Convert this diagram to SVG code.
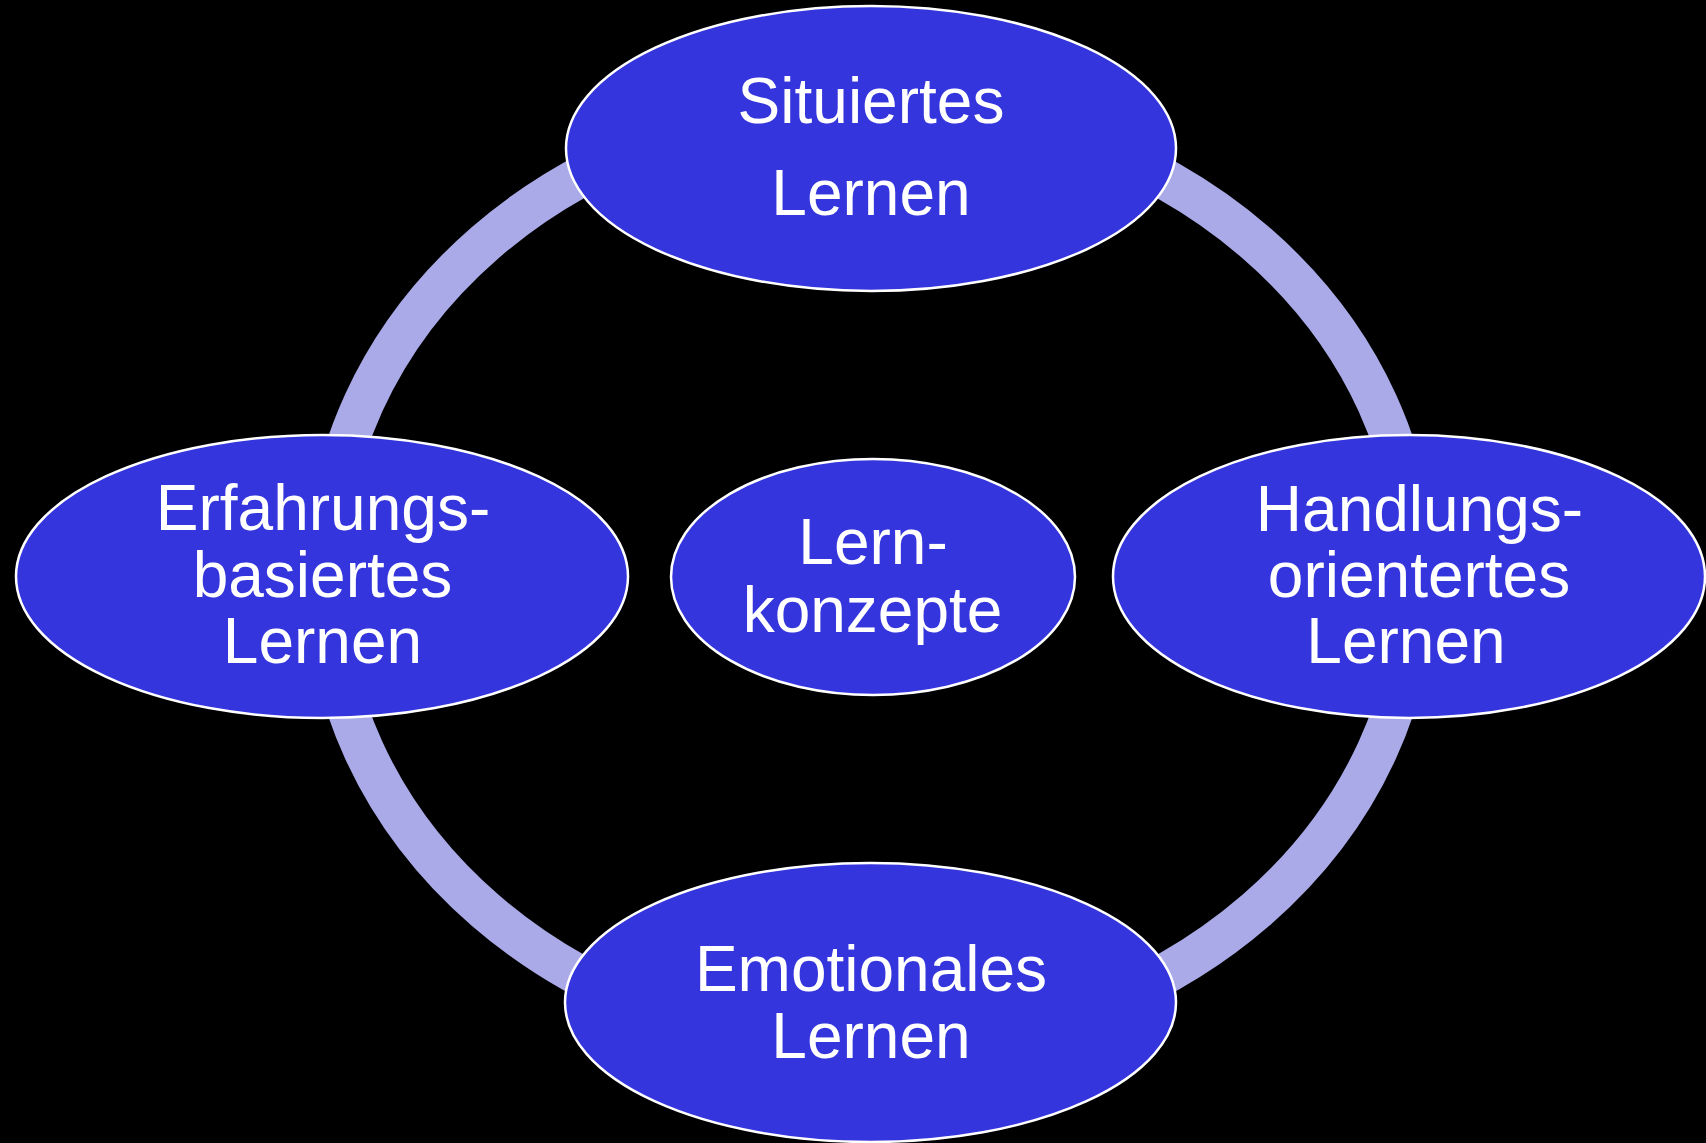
<svg xmlns="http://www.w3.org/2000/svg" width="1706" height="1143" viewBox="0 0 1706 1143">
  <style>
    .node { fill: #3535DD; stroke: #FFFFFF; stroke-width: 2.5; }
    .label { fill: #FFFFFF; font-family: "Liberation Sans", Arial, sans-serif; font-size: 64px; text-anchor: middle; }
    .ring { fill: none; stroke: #AAAAE8; stroke-width: 41; }
  </style>
  <rect x="0" y="0" width="1706" height="1143" fill="#000000"/>
  <g id="connectors">
    <ellipse class="ring" cx="870.5" cy="576.5" rx="545" ry="472"/>
  </g>
  <g id="node-situiertes">
    <ellipse class="node" cx="871" cy="148.5" rx="305" ry="142.5"/>
    <text class="label" x="871" y="123">Situiertes</text>
    <text class="label" x="871" y="215">Lernen</text>
  </g>
  <g id="node-erfahrungs">
    <ellipse class="node" cx="322" cy="576.5" rx="306" ry="141.5"/>
    <text class="label" x="323" y="530">Erfahrungs-</text>
    <text class="label" x="322.5" y="597">basiertes</text>
    <text class="label" x="322.5" y="663">Lernen</text>
  </g>
  <g id="node-handlungs">
    <ellipse class="node" cx="1409" cy="576.5" rx="296" ry="141.5"/>
    <text class="label" x="1419.5" y="530.5">Handlungs-</text>
    <text class="label" x="1419" y="597">orientertes</text>
    <text class="label" x="1406" y="663">Lernen</text>
  </g>
  <g id="node-emotionales">
    <ellipse class="node" cx="870.5" cy="1002.5" rx="305.5" ry="139.5"/>
    <text class="label" x="871" y="991">Emotionales</text>
    <text class="label" x="871" y="1058">Lernen</text>
  </g>
  <g id="node-lernkonzepte">
    <ellipse class="node" cx="873" cy="577" rx="202" ry="118"/>
    <text class="label" x="873" y="563.5">Lern-</text>
    <text class="label" x="872.5" y="632">konzepte</text>
  </g>
</svg>
